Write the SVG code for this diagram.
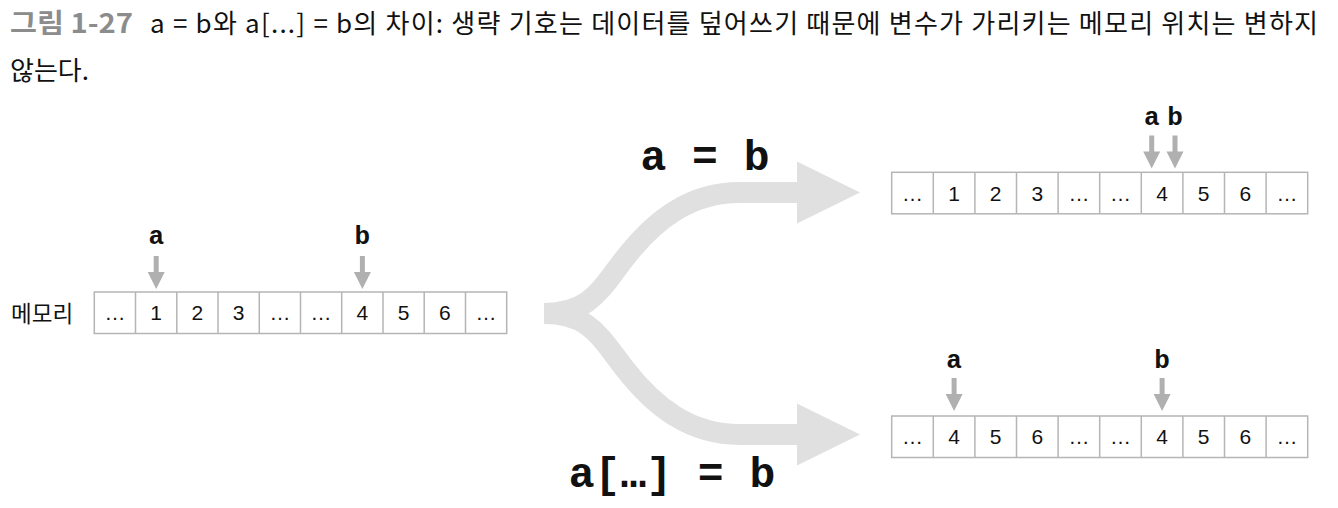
<svg xmlns="http://www.w3.org/2000/svg" width="1338" height="508" viewBox="0 0 1338 508">
<style>
.title{font-family:"Noto Sans CJK KR","Noto Sans",sans-serif;font-size:26px;fill:#111}
.fig{font-family:"Noto Sans CJK KR","Noto Sans",sans-serif;font-size:27px;font-weight:bold;fill:#8c8c8c}
.mem{font-family:"Noto Sans CJK KR","Noto Sans",sans-serif;font-size:22.5px;fill:#111}
.cell{fill:#fff;stroke:#b5b5b5;stroke-width:1.5}
.div{stroke:#b5b5b5;stroke-width:1.5}
.num{font-family:"Liberation Sans",Arial,sans-serif;font-size:21px;fill:#111;text-anchor:middle}
.var{font-family:"Courier New","Liberation Mono",monospace;font-size:26px;font-weight:bold;fill:#111;text-anchor:middle}
.big{font-family:"Courier New","Liberation Mono",monospace;font-size:43px;font-weight:bold;fill:#111;text-anchor:middle}
.flow{fill:none;stroke:#e0e0e0;stroke-width:21}
.head{fill:#e0e0e0}
.ptr{fill:#b0b0b0}
</style>
<defs>
<path id="ptr" d="M-2.5,-33 H2.5 V-17 H8.5 L0,0 L-8.5,-17 H-2.5 Z"/>
</defs>

<g id="caption">
<text class="fig" x="10" y="33" textLength="123" lengthAdjust="spacingAndGlyphs">그림 1-27</text>
<text class="title" x="150" y="33" textLength="1168" lengthAdjust="spacing">a = b와 a[...] = b의 차이: 생략 기호는 데이터를 덮어쓰기 때문에 변수가 가리키는 메모리 위치는 변하지</text>
<text class="title" x="10" y="80">않는다.</text>
</g>

<g id="connectors">
<path class="flow" d="M544,313.5 C590,313.5 600,290 625,258 C655,219.6 690,192.5 740,192.5 L799,192.5"/>
<polygon class="head" points="797,161.5 860,192.5 797,223.5"/>
<path class="flow" d="M544,313.5 C590,313.5 600,337 625,369 C655,407.4 690,434.5 740,434.5 L799,434.5"/>
<polygon class="head" points="797,403.5 860,434.5 797,465.5"/>
<use href="#ptr" class="ptr" x="156.2" y="289"/>
<use href="#ptr" class="ptr" x="362.4" y="289"/>
<use href="#ptr" class="ptr" x="1151.7" y="168.5"/>
<use href="#ptr" class="ptr" x="1175" y="168.5"/>
<use href="#ptr" class="ptr" x="954.1" y="411"/>
<use href="#ptr" class="ptr" x="1162.1" y="411"/>
</g>

<g id="label-assign">
<text class="big" x="705" y="170">a = b</text>
</g>
<g id="label-slice">
<text class="big" x="672" y="487">a[…] = b</text>
</g>

<g id="memory-before">
<text class="mem" x="11" y="322">메모리</text>
<rect class="cell" x="94.3" y="292" width="412.4" height="41.5"/>
<path class="div" d="M135.5,292V333.5M176.8,292V333.5M218,292V333.5M259.3,292V333.5M300.5,292V333.5M341.7,292V333.5M383,292V333.5M424.2,292V333.5M465.5,292V333.5"/>
<text class="num" y="320.3"><tspan x="114.9">…</tspan><tspan x="156.2">1</tspan><tspan x="197.4">2</tspan><tspan x="238.6">3</tspan><tspan x="279.9">…</tspan><tspan x="321.1">…</tspan><tspan x="362.4">4</tspan><tspan x="403.6">5</tspan><tspan x="444.8">6</tspan><tspan x="486.1">…</tspan></text>
<text class="var" x="156.2" y="244">a</text>
<text class="var" x="362.4" y="244">b</text>
</g>

<g id="memory-assign">
<rect class="cell" x="891.7" y="172.3" width="416" height="41.5"/>
<path class="div" d="M933.3,172.3V213.8M974.9,172.3V213.8M1016.5,172.3V213.8M1058.1,172.3V213.8M1099.7,172.3V213.8M1141.3,172.3V213.8M1182.9,172.3V213.8M1224.5,172.3V213.8M1266.1,172.3V213.8"/>
<text class="num" y="200.6"><tspan x="912.5">…</tspan><tspan x="954.1">1</tspan><tspan x="995.7">2</tspan><tspan x="1037.3">3</tspan><tspan x="1078.9">…</tspan><tspan x="1120.5">…</tspan><tspan x="1162.1">4</tspan><tspan x="1203.7">5</tspan><tspan x="1245.3">6</tspan><tspan x="1286.9">…</tspan></text>
<text class="var" x="1151.7" y="125">a</text>
<text class="var" x="1175" y="125">b</text>
</g>

<g id="memory-slice">
<rect class="cell" x="891.7" y="416" width="416" height="41.5"/>
<path class="div" d="M933.3,416V457.5M974.9,416V457.5M1016.5,416V457.5M1058.1,416V457.5M1099.7,416V457.5M1141.3,416V457.5M1182.9,416V457.5M1224.5,416V457.5M1266.1,416V457.5"/>
<text class="num" y="444.3"><tspan x="912.5">…</tspan><tspan x="954.1">4</tspan><tspan x="995.7">5</tspan><tspan x="1037.3">6</tspan><tspan x="1078.9">…</tspan><tspan x="1120.5">…</tspan><tspan x="1162.1">4</tspan><tspan x="1203.7">5</tspan><tspan x="1245.3">6</tspan><tspan x="1286.9">…</tspan></text>
<text class="var" x="954.1" y="368">a</text>
<text class="var" x="1162.1" y="368">b</text>
</g>
</svg>
